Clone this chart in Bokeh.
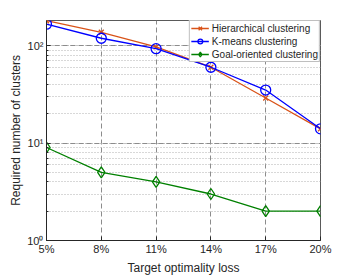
from bokeh.plotting import figure
from bokeh.models import FixedTicker, LogTicker, Legend, LegendItem
from bokeh.embed import file_html
from bokeh.resources import INLINE

loss = [5, 8, 11, 14, 17, 20]
loss_labels = ["5%", "8%", "11%", "14%", "17%", "20%"]
hierarchical = [180, 137, 97, 60, 29, 14]
kmeans = [166, 119, 93, 60, 35, 14]
goal = [9, 5, 4, 3, 2, 2]

FONT = "Liberation Sans"

p = figure(frame_width=274, frame_height=220, y_axis_type="log",
           x_range=(5, 20), y_range=(1, 181),
           output_backend="svg", toolbar_location=None,
           min_border_left=46, min_border_right=25,
           min_border_top=20, min_border_bottom=32)
p.background_fill_color = "white"
p.border_fill_color = "white"
p.outline_line_color = "#5a5a5a"
p.outline_line_width = 1

# axes
p.xaxis.ticker = FixedTicker(ticks=loss)
p.xaxis.major_label_overrides = {v: l for v, l in zip(loss, loss_labels)}
p.yaxis.ticker = LogTicker(desired_num_ticks=3, num_minor_ticks=10)
p.yaxis.major_label_overrides = {1: "10⁰", 10: "10¹", 100: "10²"}
for ax in (p.xaxis[0], p.yaxis[0]):
    ax.axis_line_color = "#262626"
    ax.major_tick_in = 4
    ax.major_tick_out = 0
    ax.minor_tick_in = 2
    ax.minor_tick_out = 0
    ax.major_tick_line_color = "#262626"
    ax.minor_tick_line_color = "#262626"
    ax.major_label_text_font = FONT
    ax.major_label_text_font_size = "11px"
    ax.major_label_text_color = "#262626"
    ax.axis_label_text_font = FONT
    ax.axis_label_text_font_size = "12px"
    ax.axis_label_text_font_style = "normal"
    ax.axis_label_text_color = "#262626"
p.xaxis.minor_tick_line_color = None
p.xaxis.major_label_standoff = 2
p.yaxis.major_label_standoff = 3
p.xaxis.axis_label = "Target optimality loss"
p.yaxis.axis_label = "Required number of clusters"
p.xaxis.axis_label_standoff = 3
p.yaxis.axis_label_standoff = 1

# grids
p.xgrid.grid_line_color = "#8c8c8c"
p.xgrid.grid_line_dash = "5 3"
p.ygrid.grid_line_color = "#8c8c8c"
p.ygrid.grid_line_dash = "5 3"
p.ygrid.minor_grid_line_color = "#b0b0b0"
p.ygrid.minor_grid_line_dash = "1 2"

c_h = "#D95319"
c_k = "#0000FF"
c_g = "#008000"

lh = p.line(loss, hierarchical, line_color=c_h, line_width=1.3)
sh = p.scatter(loss, hierarchical, marker="x", size=7, line_color=c_h, line_width=1.3)
lk = p.line(loss, kmeans, line_color=c_k, line_width=1.3)
sk = p.scatter(loss, kmeans, marker="circle", size=10, line_color=c_k,
               fill_color=None, line_width=1.3)
lg = p.line(loss, goal, line_color=c_g, line_width=1.3)
sg = p.scatter(loss, goal, marker="diamond", size=11, line_color=c_g,
               fill_color=None, line_width=1.3)

legend = Legend(items=[
    LegendItem(label="Hierarchical clustering", renderers=[lh, sh]),
    LegendItem(label="K-means clustering", renderers=[lk, sk]),
    LegendItem(label="Goal-oriented clustering", renderers=[lg, sg]),
], location="top_right")
legend.margin = 0
legend.padding = 1
legend.spacing = 1
legend.label_text_font = FONT
legend.label_text_font_size = "10px"
legend.label_text_color = "#262626"
legend.label_height = 12
legend.glyph_height = 12
legend.glyph_width = 18
legend.label_standoff = 3
legend.border_line_color = "#7f7f7f"
legend.background_fill_color = "white"
legend.background_fill_alpha = 1
p.add_layout(legend)

open("out.html", "w").write(file_html(p, INLINE))
